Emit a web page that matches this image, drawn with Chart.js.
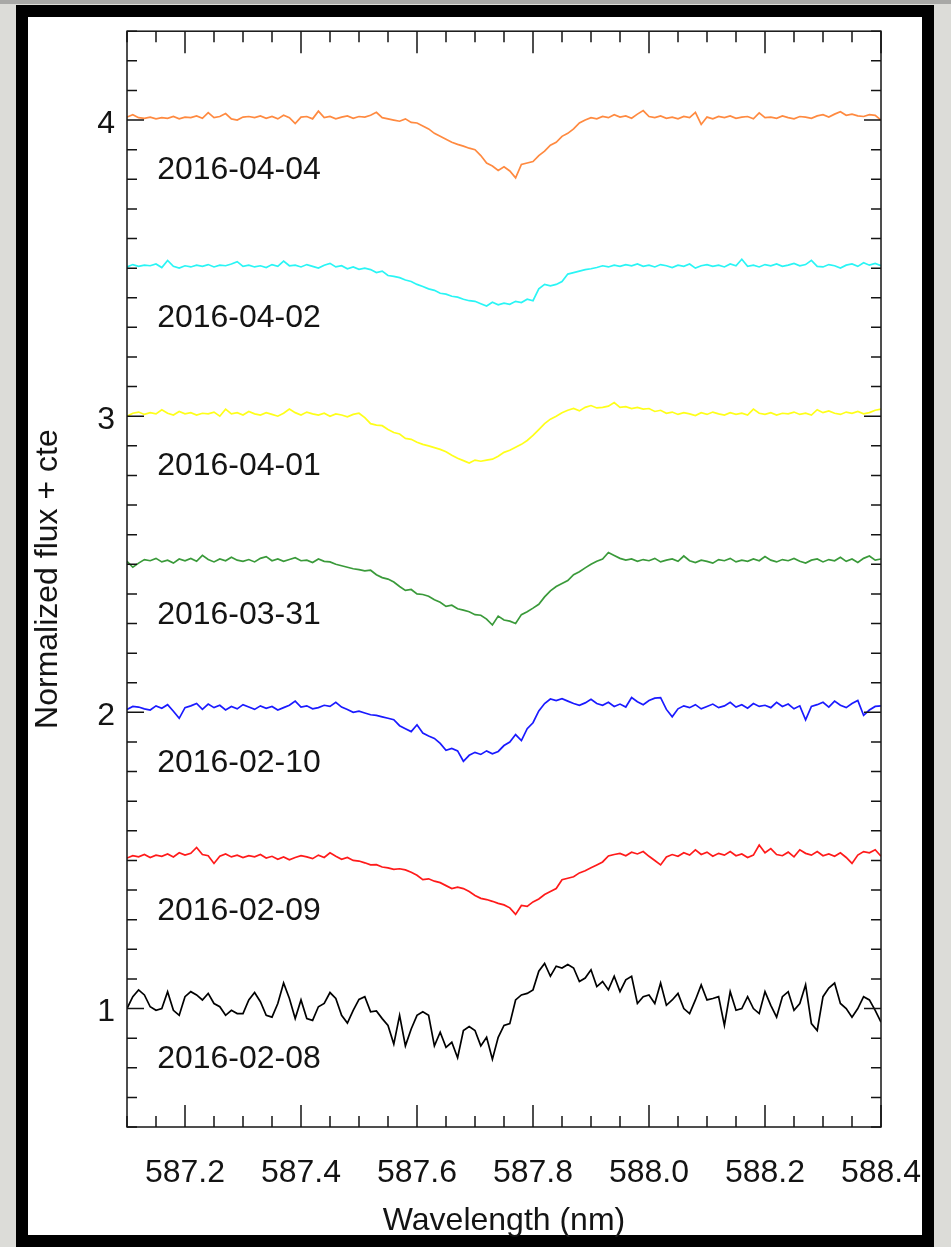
<!DOCTYPE html>
<html>
<head>
<meta charset="utf-8">
<script src="https://cdn.jsdelivr.net/npm/chart.js@4.4.1/dist/chart.umd.min.js"></script>
<style>
  html, body { margin: 0; padding: 0; }
  body { width: 951px; height: 1247px; background: #dcdcd8; position: relative; overflow: hidden; }
  #frame {
    position: absolute; left: 16px; top: 5px; width: 918px; height: 1242px;
    box-sizing: border-box; border: 12px solid #000; background: #fff;
  }
  #topband { position: absolute; left: 0; top: 0; width: 951px; height: 4px; background: #a8a8a6; }
  #plot { position: absolute; left: 0; top: 0; }
</style>
</head>
<body>
<div id="topband"></div>
<div id="frame"></div>
<canvas id="plot" width="951" height="1247"></canvas>
<script>
// observation dates, bottom to top
const dates = ['2016-02-08', '2016-02-09', '2016-02-10', '2016-03-31', '2016-04-01', '2016-04-02', '2016-04-04'];
const offsets = [0, 0.5, 1.0, 1.5, 2.0, 2.5, 3.0];
const colors = ['#000000', '#ff1a1a', '#1a1aff', '#3a9a3a', '#ffff1a', '#2af5f5', '#ff8a40'];

const xTicks = [587.2, 587.4, 587.6, 587.8, 588.0, 588.2, 588.4];
const yTicks = [1, 2, 3, 4];

// wavelength grid (nm), 0.01 nm steps from 587.10 to 588.40
const wavelength = [];
for (let i = 0; i <= 130; i++) wavelength.push(+(587.1 + i * 0.01).toFixed(2));

const flux0208 = [1.000, 1.040, 1.063, 1.046, 1.006, 0.994, 1.000, 1.057, 0.994, 0.977, 1.040,
  1.057, 1.046, 1.029, 1.051, 1.017, 1.006, 0.977, 0.994, 0.983, 0.983,
  1.029, 1.054, 1.023, 0.977, 0.971, 1.017, 1.086, 1.034, 0.966, 1.029,
  0.966, 0.960, 1.006, 1.017, 1.054, 1.034, 0.977, 0.951, 0.994, 1.031,
  1.040, 0.989, 0.992, 0.966, 0.943, 0.880, 0.977, 0.874, 0.931, 0.977,
  0.989, 0.977, 0.874, 0.920, 0.869, 0.886, 0.834, 0.926, 0.939, 0.926,
  0.874, 0.903, 0.829, 0.903, 0.943, 0.949, 1.029, 1.046, 1.051, 1.063,
  1.126, 1.152, 1.109, 1.143, 1.137, 1.149, 1.137, 1.091, 1.103, 1.131,
  1.074, 1.091, 1.063, 1.109, 1.057, 1.097, 1.109, 1.017, 1.040, 1.046,
  1.017, 1.086, 1.011, 1.029, 1.051, 1.000, 0.983, 1.029, 1.080, 1.029,
  1.034, 1.040, 0.943, 1.057, 0.994, 1.000, 1.040, 1.000, 0.983, 1.057,
  1.011, 0.971, 1.040, 1.057, 0.994, 1.017, 1.080, 0.949, 0.926, 1.040,
  1.069, 1.086, 1.017, 1.000, 0.971, 1.000, 1.040, 1.029, 0.994, 0.954];

const flux0209 = [1.008, 1.016, 1.012, 1.020, 1.010, 1.018, 1.014, 1.022, 1.012, 1.026, 1.018,
  1.024, 1.044, 1.020, 1.016, 0.990, 1.014, 1.022, 1.012, 1.018, 1.010,
  1.016, 1.012, 1.020, 1.008, 1.014, 1.004, 1.012, 1.002, 1.010, 1.016,
  1.012, 1.006, 1.018, 1.010, 1.026, 1.014, 1.004, 1.010, 1.000, 0.998,
  0.992, 0.985, 0.986, 0.978, 0.975, 0.970, 0.972, 0.968, 0.960, 0.950,
  0.935, 0.938, 0.930, 0.925, 0.915, 0.905, 0.910, 0.905, 0.895, 0.882,
  0.872, 0.868, 0.862, 0.855, 0.850, 0.840, 0.818, 0.848, 0.845, 0.860,
  0.870, 0.885, 0.895, 0.905, 0.935, 0.940, 0.945, 0.958, 0.965, 0.975,
  0.985, 0.995, 1.015, 1.020, 1.024, 1.016, 1.028, 1.022, 1.030, 1.014,
  1.000, 0.985, 1.012, 1.020, 1.014, 1.026, 1.018, 1.036, 1.020, 1.028,
  1.014, 1.024, 1.018, 1.030, 1.016, 1.022, 1.010, 1.018, 1.052, 1.026,
  1.040, 1.020, 1.016, 1.028, 1.012, 1.036, 1.024, 1.018, 1.030, 1.016,
  1.022, 1.014, 1.026, 1.010, 0.990, 1.018, 1.030, 1.026, 1.036, 1.014];

const flux0210 = [1.010, 1.020, 1.018, 1.012, 1.008, 1.022, 1.014, 1.026, 1.004, 0.980, 1.016,
  1.022, 1.030, 1.010, 1.028, 1.016, 1.024, 1.008, 1.020, 1.012, 1.026,
  1.018, 1.010, 1.022, 1.014, 1.020, 1.008, 1.016, 1.024, 1.038, 1.018,
  1.022, 1.012, 1.016, 1.024, 1.020, 1.034, 1.018, 1.010, 1.000, 1.004,
  0.998, 0.992, 0.990, 0.985, 0.980, 0.975, 0.955, 0.945, 0.935, 0.958,
  0.930, 0.920, 0.912, 0.895, 0.872, 0.878, 0.870, 0.835, 0.855, 0.865,
  0.858, 0.870, 0.860, 0.868, 0.888, 0.900, 0.925, 0.905, 0.945, 0.965,
  1.005, 1.030, 1.045, 1.040, 1.046, 1.038, 1.030, 1.024, 1.032, 1.044,
  1.030, 1.024, 1.034, 1.020, 1.028, 1.018, 1.050, 1.036, 1.026, 1.040,
  1.048, 1.050, 1.010, 0.985, 1.012, 1.022, 1.016, 1.026, 1.012, 1.020,
  1.028, 1.016, 1.022, 1.034, 1.018, 1.026, 1.014, 1.030, 1.020, 1.024,
  1.016, 1.034, 1.020, 1.028, 1.012, 1.022, 0.975, 1.020, 1.026, 1.034,
  1.018, 1.038, 1.024, 1.016, 1.030, 1.040, 0.990, 1.008, 1.020, 1.022];

const flux0331 = [1.010, 0.990, 1.004, 1.016, 1.012, 1.020, 1.008, 1.014, 1.004, 1.018, 1.012,
  1.020, 1.010, 1.030, 1.016, 1.008, 1.018, 1.012, 1.024, 1.014, 1.010,
  1.016, 1.008, 1.020, 1.026, 1.012, 1.018, 1.010, 1.016, 1.022, 1.012,
  1.014, 1.006, 1.018, 1.010, 1.008, 1.000, 0.995, 0.990, 0.985, 0.982,
  0.978, 0.980, 0.965, 0.955, 0.950, 0.940, 0.925, 0.912, 0.915, 0.900,
  0.898, 0.892, 0.880, 0.872, 0.858, 0.862, 0.850, 0.845, 0.840, 0.830,
  0.828, 0.815, 0.795, 0.825, 0.812, 0.808, 0.800, 0.830, 0.840, 0.852,
  0.865, 0.890, 0.910, 0.925, 0.935, 0.945, 0.965, 0.975, 0.988, 1.000,
  1.010, 1.018, 1.040, 1.030, 1.020, 1.014, 1.018, 1.010, 1.016, 1.012,
  1.020, 1.008, 1.014, 1.018, 1.010, 1.028, 1.012, 1.006, 1.014, 1.010,
  1.004, 1.016, 1.012, 1.020, 1.008, 1.014, 1.010, 1.018, 1.012, 1.026,
  1.014, 1.008, 1.016, 1.012, 1.020, 1.010, 1.004, 1.014, 1.018, 1.008,
  1.016, 1.012, 1.024, 1.010, 1.018, 1.006, 1.020, 1.028, 1.014, 1.018];

const flux0401 = [1.000, 1.010, 1.014, 1.006, 1.012, 1.008, 1.022, 1.010, 1.004, 1.016, 1.008,
  1.012, 1.004, 1.010, 1.008, 1.014, 1.000, 1.024, 1.008, 1.012, 1.004,
  1.016, 1.008, 1.004, 1.012, 1.006, 1.000, 1.010, 1.024, 1.012, 1.004,
  1.014, 1.008, 1.004, 1.010, 1.000, 1.008, 1.004, 0.998, 1.006, 1.010,
  0.995, 0.975, 0.970, 0.968, 0.955, 0.945, 0.940, 0.925, 0.922, 0.912,
  0.905, 0.900, 0.894, 0.888, 0.880, 0.868, 0.858, 0.850, 0.842, 0.852,
  0.848, 0.852, 0.855, 0.865, 0.878, 0.885, 0.895, 0.905, 0.918, 0.935,
  0.955, 0.975, 0.990, 1.000, 1.012, 1.020, 1.026, 1.018, 1.030, 1.036,
  1.028, 1.030, 1.034, 1.046, 1.030, 1.032, 1.026, 1.030, 1.024, 1.026,
  1.016, 1.020, 1.010, 1.014, 1.006, 1.012, 1.008, 1.002, 1.012, 1.006,
  1.014, 1.008, 1.004, 1.012, 1.006, 1.010, 1.004, 1.024, 1.010, 1.006,
  1.012, 1.004, 1.010, 1.008, 1.014, 1.006, 1.010, 1.004, 1.022, 1.012,
  1.018, 1.010, 1.006, 1.014, 1.010, 1.016, 1.008, 1.012, 1.020, 1.024];

const flux0402 = [1.004, 1.012, 1.006, 1.010, 1.008, 1.014, 1.002, 1.026, 1.006, 1.000, 1.008,
  1.004, 1.010, 1.006, 1.012, 1.004, 1.010, 1.008, 1.014, 1.022, 1.006,
  1.010, 1.004, 1.008, 1.002, 1.012, 1.006, 1.024, 1.008, 1.010, 1.004,
  1.012, 1.006, 1.000, 1.010, 1.016, 1.004, 1.008, 0.998, 1.004, 0.996,
  1.000, 0.995, 0.985, 0.990, 0.975, 0.972, 0.968, 0.960, 0.955, 0.945,
  0.938, 0.930, 0.925, 0.915, 0.912, 0.905, 0.902, 0.895, 0.890, 0.888,
  0.880, 0.872, 0.885, 0.876, 0.882, 0.878, 0.888, 0.884, 0.895, 0.890,
  0.930, 0.945, 0.940, 0.945, 0.955, 0.980, 0.985, 0.990, 0.995, 0.998,
  1.002, 1.008, 1.004, 1.010, 1.006, 1.012, 1.008, 1.014, 1.006, 1.010,
  1.004, 1.012, 1.008, 1.002, 1.010, 1.006, 1.014, 1.000, 1.008, 1.012,
  1.006, 1.010, 1.004, 1.014, 1.008, 1.030, 1.006, 1.010, 1.004, 1.012,
  1.008, 1.014, 1.006, 1.010, 1.016, 1.008, 1.012, 1.026, 1.006, 1.004,
  1.012, 1.008, 1.000, 1.010, 1.014, 1.006, 1.018, 1.010, 1.016, 1.008];

const flux0404 = [1.010, 1.018, 1.008, 1.006, 1.010, 1.004, 1.008, 1.006, 1.012, 1.004, 1.010,
  1.008, 1.014, 1.006, 1.025, 1.008, 1.012, 1.022, 1.004, 1.000, 1.010,
  1.012, 1.008, 1.014, 1.006, 1.012, 1.004, 1.016, 1.008, 0.988, 1.010,
  1.012, 1.004, 1.030, 1.008, 1.012, 1.004, 1.010, 1.014, 1.006, 1.012,
  1.010, 1.016, 1.026, 1.008, 1.004, 1.000, 0.996, 1.004, 0.992, 0.990,
  0.980, 0.970, 0.955, 0.945, 0.935, 0.925, 0.918, 0.912, 0.905, 0.900,
  0.880, 0.855, 0.845, 0.830, 0.842, 0.828, 0.805, 0.850, 0.855, 0.860,
  0.880, 0.895, 0.915, 0.925, 0.945, 0.955, 0.970, 0.990, 1.000, 1.008,
  1.004, 1.012, 1.008, 1.018, 1.010, 1.014, 1.006, 1.020, 1.032, 1.012,
  1.008, 1.014, 1.006, 1.010, 1.004, 1.012, 1.008, 1.026, 0.985, 1.010,
  1.004, 1.012, 1.008, 1.014, 1.006, 1.010, 1.012, 1.004, 1.024, 1.008,
  1.010, 1.006, 1.014, 1.008, 1.004, 1.012, 1.010, 1.006, 1.014, 1.018,
  1.010, 1.020, 1.028, 1.016, 1.020, 1.014, 1.012, 1.018, 1.016, 1.000];

const spectra = [flux0208, flux0209, flux0210, flux0331, flux0401, flux0402, flux0404];

const FONT = '"Liberation Sans", Arial, Helvetica, sans-serif';
const INK = '#141414';
Chart.defaults.font.family = FONT;
Chart.defaults.color = INK;

// frame and inward ticks on all four sides
const frameTicks = {
  id: 'frameTicks',
  afterDraw(chart) {
    const { ctx, chartArea: a, scales: { x, y } } = chart;
    ctx.save();
    ctx.strokeStyle = INK;
    ctx.lineWidth = 1.5;
    ctx.beginPath();
    for (let k = 0; k <= 26; k++) {
      const v = 587.1 + k * 0.05;
      const px = x.getPixelForValue(v);
      const major = Math.abs(v * 5 - Math.round(v * 5)) < 1e-6;
      const len = major ? 22 : 11;
      ctx.moveTo(px, a.bottom); ctx.lineTo(px, a.bottom - len);
      ctx.moveTo(px, a.top); ctx.lineTo(px, a.top + len);
    }
    for (let k = 6; k <= 43; k++) {
      const py = y.getPixelForValue(k / 10);
      const len = k % 10 === 0 ? 17 : 10;
      ctx.moveTo(a.left, py); ctx.lineTo(a.left + len, py);
      ctx.moveTo(a.right, py); ctx.lineTo(a.right - len, py);
    }
    ctx.stroke();
    ctx.strokeRect(a.left, a.top, a.right - a.left, a.bottom - a.top);
    ctx.restore();
  }
};

// date label under each spectrum
const dateLabels = {
  id: 'dateLabels',
  afterDatasetsDraw(chart) {
    const { ctx, scales: { x, y } } = chart;
    ctx.save();
    ctx.font = '32px ' + FONT;
    ctx.fillStyle = INK;
    ctx.textAlign = 'left';
    ctx.textBaseline = 'alphabetic';
    dates.forEach((d, k) => {
      ctx.fillText(d, x.getPixelForValue(587.152), y.getPixelForValue(offsets[k] + 1 - 0.2));
    });
    ctx.restore();
  }
};

new Chart(document.getElementById('plot'), {
  type: 'line',
  data: {
    datasets: spectra.map((flux, k) => ({
      label: dates[k],
      data: wavelength.map((w, i) => ({ x: w, y: flux[i] + offsets[k] })),
      borderColor: colors[k],
      borderWidth: 1.7,
      pointRadius: 0,
      tension: 0,
      fill: false,
    })),
  },
  options: {
    responsive: false,
    animation: false,
    layout: { padding: { left: 0, right: 70, top: 29, bottom: 0 } },
    plugins: {
      legend: { display: false },
      tooltip: { enabled: false },
    },
    scales: {
      x: {
        type: 'linear',
        min: 587.1,
        max: 588.4,
        afterBuildTicks: axis => { axis.ticks = xTicks.map(v => ({ value: v })); },
        afterFit: axis => { axis.height = 120; },
        grid: { display: false, drawTicks: false },
        border: { display: false },
        ticks: {
          font: { size: 32 },
          padding: 27,
          maxRotation: 0,
          autoSkip: false,
          callback: v => v.toFixed(1),
        },
        title: {
          display: true,
          text: 'Wavelength (nm)',
          font: { size: 32 },
          padding: { top: 0, bottom: 7 },
        },
      },
      y: {
        type: 'linear',
        min: 0.6,
        max: 4.3,
        afterBuildTicks: axis => { axis.ticks = yTicks.map(v => ({ value: v })); },
        afterFit: axis => { axis.width = 127; },
        grid: { display: false, drawTicks: false },
        border: { display: false },
        ticks: {
          font: { size: 32 },
          padding: 12,
          labelOffset: 4,
          callback: v => String(v),
        },
        title: {
          display: true,
          text: 'Normalized flux + cte',
          font: { size: 32 },
          padding: { top: 29, bottom: 0 },
        },
      },
    },
  },
  plugins: [frameTicks, dateLabels],
});
</script>
</body>
</html>
